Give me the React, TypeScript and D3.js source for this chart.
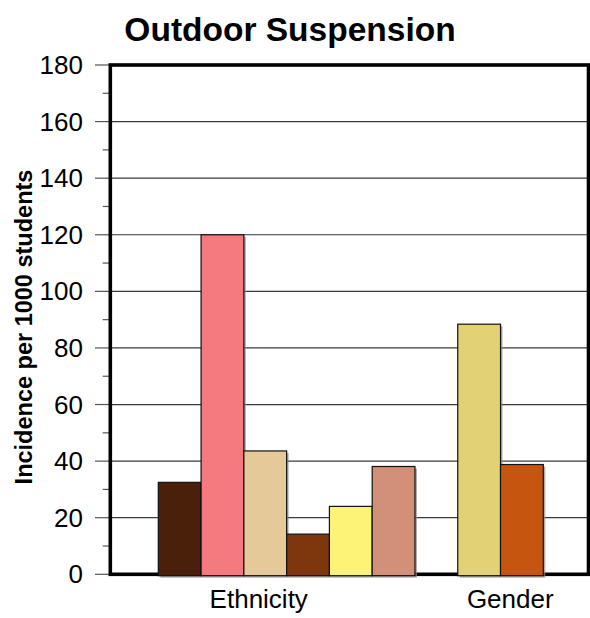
import React from 'react';
import * as d3 from 'd3';

// chart data
const categories = ['Ethnicity', 'Gender'];
const ethnicityValues = [32.5, 120, 43.6, 14.2, 24, 38.1];
const genderValues = [88.4, 38.8];
const ethnicityColors = ['#4a200a', '#f47a80', '#e6c998', '#7e360c', '#fdf377', '#d29078'];
const genderColors = ['#e3d274', '#c6560f'];
const yTicks = [0, 20, 40, 60, 80, 100, 120, 140, 160, 180];

const W = 590;
const H = 618;
const plot = { left: 110.3, right: 588.5, top: 65, bottom: 574.3 };
const font = '"Liberation Sans", Arial, sans-serif';

export default function App() {
  const y = d3.scaleLinear().domain([0, 180]).range([plot.bottom, plot.top]);

  // one slot per bar, one empty slot between the two groups
  const bars = [
    ...ethnicityValues.map((v, i) => ({ key: `e${i}`, value: v, color: ethnicityColors[i] })),
    { key: 'gap', value: null as number | null, color: 'none' },
    ...genderValues.map((v, i) => ({ key: `g${i}`, value: v, color: genderColors[i] })),
  ];
  const x = d3.scaleBand<string>().domain(bars.map(b => b.key)).range([158.3, 543.3]).padding(0);
  const xCat = d3.scaleBand<string>().domain(categories).range([133, 636]);

  const minor = d3.range(10, 180, 20);

  return (
    <svg width={W} height={H} style={{ position: 'absolute', left: 0, top: 0, background: '#fff' }}>
      <text x={290} y={41} textAnchor="middle" fontFamily={font} fontWeight="bold" fontSize={33.5} fill="#000">
        Outdoor Suspension
      </text>

      {/* grid lines */}
      {yTicks.filter(t => t > 0 && t < 180).map(t => (
        <line key={`g${t}`} x1={plot.left} x2={plot.right} y1={y(t)} y2={y(t)} stroke="#3a3a3a" strokeWidth={1.2} />
      ))}

      {/* ticks */}
      {yTicks.map(t => (
        <line key={`t${t}`} x1={95} x2={plot.left} y1={y(t)} y2={y(t)} stroke="#555" strokeWidth={1.2} />
      ))}
      {minor.map(t => (
        <line key={`m${t}`} x1={102.7} x2={plot.left} y1={y(t)} y2={y(t)} stroke="#555" strokeWidth={1.2} />
      ))}
      {yTicks.map(t => (
        <text key={`l${t}`} x={83} y={y(t)} dy="0.35em" textAnchor="end" fontFamily={font} fontSize={26} fill="#000">
          {t}
        </text>
      ))}

      {/* plot frame */}
      <rect x={plot.left} y={plot.top} width={plot.right - plot.left} height={plot.bottom - plot.top}
        fill="none" stroke="#000" strokeWidth={3.6} />

      {/* bar shadows */}
      {bars.filter(b => b.value !== null).map(b => (
        <rect key={`s${b.key}`} x={(x(b.key) || 0) + 2} y={y(b.value as number) + 2}
          width={x.bandwidth()} height={y(0) - y(b.value as number) + 1.4}
          fill="#8c8c8c" opacity={0.7} />
      ))}
      {/* bars */}
      {bars.filter(b => b.value !== null).map(b => (
        <rect key={b.key} x={x(b.key) || 0} y={y(b.value as number)}
          width={x.bandwidth()} height={y(0) - y(b.value as number) + 1.4}
          fill={b.color} stroke="#111" strokeWidth={1.2} />
      ))}

      {/* category labels */}
      {categories.map(c => (
        <text key={c} x={(xCat(c) || 0) + xCat.bandwidth() / 2} y={608} textAnchor="middle"
          fontFamily={font} fontSize={26} fill="#000">
          {c}
        </text>
      ))}

      <text transform="translate(31.5,327) rotate(-90)" textAnchor="middle" fontFamily={font}
        fontWeight="bold" fontSize={23.5} fill="#000">
        Incidence per 1000 students
      </text>
    </svg>
  );
}
